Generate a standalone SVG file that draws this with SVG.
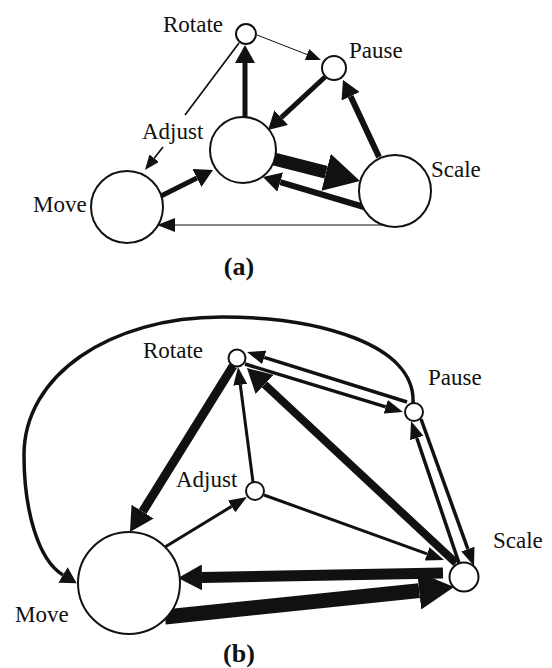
<svg xmlns="http://www.w3.org/2000/svg" width="552" height="668" viewBox="0 0 552 668">
<style>
.node{fill:#fff;stroke:#111;stroke-width:2}
.lbl{font-family:"Liberation Serif","Times New Roman",serif;font-size:23px;fill:#111}
.cap{font-family:"Liberation Serif","Times New Roman",serif;font-size:26px;font-weight:bold;fill:#111}
.e{fill:none;stroke:#111;stroke-linecap:butt}
</style>
<defs>
<marker id="hA" markerUnits="userSpaceOnUse" viewBox="0 -6 15 12" markerWidth="15" markerHeight="12" refX="0" refY="0" orient="auto"><path d="M0,-6L15,0L0,6z" fill="#111"/></marker>
<marker id="hB" markerUnits="userSpaceOnUse" viewBox="0 -7 18 14" markerWidth="18" markerHeight="14" refX="0" refY="0" orient="auto"><path d="M0,-7L18,0L0,7z" fill="#111"/></marker>
<marker id="hC" markerUnits="userSpaceOnUse" viewBox="0 -10 18 20" markerWidth="18" markerHeight="20" refX="0" refY="0" orient="auto"><path d="M0,-10L18,0L0,10z" fill="#111"/></marker>
<marker id="hD" markerUnits="userSpaceOnUse" viewBox="0 -13 24 26" markerWidth="24" markerHeight="26" refX="0" refY="0" orient="auto"><path d="M0,-13L24,0L0,13z" fill="#111"/></marker>
<marker id="hE" markerUnits="userSpaceOnUse" viewBox="0 -19 35 38" markerWidth="35" markerHeight="38" refX="0" refY="0" orient="auto"><path d="M0,-19L35,0L0,19z" fill="#111"/></marker>
<marker id="hF" markerUnits="userSpaceOnUse" viewBox="0 -9 16 18" markerWidth="16" markerHeight="18" refX="0" refY="0" orient="auto"><path d="M0,-9L16,0L0,9z" fill="#111"/></marker>
</defs>

<g id="connectors">
<!-- (a) -->
<path class="e" d="M257,35L307,54.5" stroke-width="1" marker-end="url(#hA)"/>
<path class="e" d="M239,43L185,115" stroke-width="1.7"/>
<path class="e" d="M163,147L154.2,158.2" stroke-width="1.7" marker-end="url(#hA)"/>
<path class="e" d="M245,117L245,63" stroke-width="5" marker-end="url(#hC)"/>
<path class="e" d="M325,77L281.2,117.7" stroke-width="5" marker-end="url(#hC)"/>
<path class="e" d="M379,157L350.6,96.3" stroke-width="6" marker-end="url(#hC)"/>
<path class="e" d="M274,159L326.1,172.3" stroke-width="13" marker-end="url(#hE)"/>
<path class="e" d="M364,207L280.2,182.1" stroke-width="6" marker-end="url(#hC)"/>
<path class="e" d="M161,196L196.9,178" stroke-width="5" marker-end="url(#hC)"/>
<path class="e" d="M383,225L175,225" stroke-width="1" marker-end="url(#hB)"/>
<!-- (b) -->
<path class="e" d="M413,403C416,345 320,317 222,317C110,317 24,375 24,455C24,510 38,560 63,575" stroke-width="3.5" marker-end="url(#hF)"/>
<path class="e" d="M233,366L142.6,511.6" stroke-width="9" marker-end="url(#hD)"/>
<path class="e" d="M165,547L231.6,506.4" stroke-width="3" marker-end="url(#hB)"/>
<path class="e" d="M253,482L240.3,384.8" stroke-width="3" marker-end="url(#hB)"/>
<path class="e" d="M264,495L427.1,553.9" stroke-width="3" marker-end="url(#hB)"/>
<path class="e" d="M407,402L264.2,357.4" stroke-width="3.5" marker-end="url(#hB)"/>
<path class="e" d="M245,364L385.8,406.8" stroke-width="3.5" marker-end="url(#hB)"/>
<path class="e" d="M459,563L416.8,438" stroke-width="3.5" marker-end="url(#hB)"/>
<path class="e" d="M421,419L467.9,549.1" stroke-width="3.5" marker-end="url(#hB)"/>
<path class="e" d="M456,563L264.5,384.4" stroke-width="8" marker-end="url(#hD)"/>
<path class="e" d="M443,573L202,577.5" stroke-width="11" marker-end="url(#hD)"/>
<path class="e" d="M165,617L419.2,590.6" stroke-width="15" marker-end="url(#hE)"/>
</g>

<!-- (a) nodes -->
<g id="a-rotate"><circle class="node" cx="246" cy="34" r="10"/><text class="lbl" x="163" y="32">Rotate</text></g>
<g id="a-pause"><circle class="node" cx="334" cy="68" r="12"/><text class="lbl" x="349" y="58">Pause</text></g>
<g id="a-adjust"><circle class="node" cx="243" cy="150" r="33"/><text class="lbl" x="142" y="139">Adjust</text></g>
<g id="a-scale"><circle class="node" cx="395" cy="191" r="36"/><text class="lbl" x="431" y="177">Scale</text></g>
<g id="a-move"><circle class="node" cx="127" cy="207" r="36"/><text class="lbl" x="33" y="212">Move</text></g>
<text class="cap" x="239" y="275" text-anchor="middle">(a)</text>

<!-- (b) nodes -->
<g id="b-rotate"><circle class="node" cx="237" cy="358" r="8.5"/><text class="lbl" x="143" y="358">Rotate</text></g>
<g id="b-pause"><circle class="node" cx="414" cy="412" r="9"/><text class="lbl" x="428" y="385">Pause</text></g>
<g id="b-adjust"><circle class="node" cx="255" cy="491" r="9"/><text class="lbl" x="176" y="487">Adjust</text></g>
<g id="b-scale"><circle class="node" cx="464" cy="577" r="14.5"/><text class="lbl" x="493" y="548">Scale</text></g>
<g id="b-move"><circle class="node" cx="129" cy="583" r="51"/><text class="lbl" x="15" y="622">Move</text></g>
<text class="cap" x="239" y="662" text-anchor="middle">(b)</text>
</svg>
